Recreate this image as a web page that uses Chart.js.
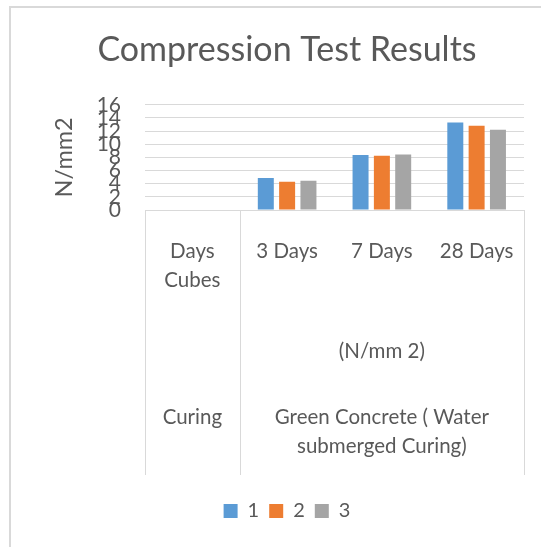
<!DOCTYPE html>
<html>
<head>
<meta charset="utf-8">
<script src="https://cdn.jsdelivr.net/npm/chart.js"></script>
<style>
  html, body { margin: 0; padding: 0; background: #fff; }
  #wrap { width: 541px; height: 547px; }
</style>
</head>
<body>
<div id="wrap"><canvas id="chart"></canvas></div>
<script>
// categories (first one is the header column of the multi-level axis)
const categories = [['Days', 'Cubes'], '3 Days', '7 Days', '28 Days'];
const unitLabel = '(N/mm 2)';
const curingHeader = 'Curing';
const curingLabel = ['Green Concrete ( Water', 'submerged Curing)'];

const series1 = [null, 4.85, 8.35, 13.3];
const series2 = [null, 4.3, 8.25, 12.8];
const series3 = [null, 4.45, 8.45, 12.2];

const yTicks = [0, 2, 4, 6, 8, 10, 12, 14, 16];

const textColor = '#595959';
const fontFamily = 'Lato, "Open Sans", sans-serif';

// draws the outer frame plus the Excel-like multi-level category labels
const multiLevel = {
    id: 'multiLevel',
    beforeDraw(chart) {
        const ctx = chart.ctx;
        ctx.save();
        ctx.strokeStyle = '#d9d9d9';
        ctx.lineWidth = 2;
        ctx.beginPath();
        ctx.moveTo(10, 547);
        ctx.lineTo(10, 7);
        ctx.lineTo(541, 7);
        ctx.stroke();
        ctx.restore();
    },
    afterDraw(chart) {
        const ctx = chart.ctx;
        const x = chart.scales.x;
        const area = chart.chartArea;
        const half = (x.getPixelForValue(1) - x.getPixelForValue(0)) / 2;
        const bottom = 475;

        ctx.save();
        ctx.strokeStyle = '#d9d9d9';
        ctx.lineWidth = 1;
        const seps = [x.getPixelForValue(0) - half, x.getPixelForValue(0) + half, x.getPixelForValue(3) + half];
        seps.forEach(px => {
            ctx.beginPath();
            ctx.moveTo(Math.round(px) + 0.5, area.bottom);
            ctx.lineTo(Math.round(px) + 0.5, bottom);
            ctx.stroke();
        });

        ctx.fillStyle = textColor;
        ctx.font = '20.5px ' + fontFamily;
        ctx.textAlign = 'center';
        ctx.textBaseline = 'middle';

        categories.forEach((c, i) => {
            const lines = Array.isArray(c) ? c : [c];
            lines.forEach((t, j) => ctx.fillText(t, x.getPixelForValue(i), 251 + j * 29));
        });

        const groupMid = (x.getPixelForValue(1) + x.getPixelForValue(3)) / 2;
        ctx.fillText(unitLabel, groupMid, 351);
        ctx.fillText(curingHeader, x.getPixelForValue(0), 417);
        curingLabel.forEach((t, j) => ctx.fillText(t, groupMid, 417 + j * 29));
        ctx.restore();
    }
};

new Chart(document.getElementById('chart'), {
    type: 'bar',
    data: {
        labels: categories,
        datasets: [
            { label: '1', data: series1, backgroundColor: '#5b9bd5' },
            { label: '2', data: series2, backgroundColor: '#ed7d31' },
            { label: '3', data: series3, backgroundColor: '#a5a5a5' }
        ]
    },
    options: {
        responsive: true,
        maintainAspectRatio: false,
        animation: false,
        datasets: {
            bar: { categoryPercentage: 0.675, barPercentage: 0.75 }
        },
        layout: { padding: { left: 50, right: 17, top: 0, bottom: 16 } },
        scales: {
            x: {
                grid: { display: false },
                border: { display: false },
                ticks: { display: false },
                afterFit: s => { s.height = 281; }
            },
            y: {
                min: 0,
                max: 16,
                afterBuildTicks: s => { s.ticks = yTicks.map(v => ({ value: v })); },
                grid: { color: '#d9d9d9', drawTicks: false },
                border: { display: false },
                ticks: {
                    color: textColor,
                    autoSkip: false,
                    padding: 24,
                    font: { size: 21, family: fontFamily }
                },
                title: {
                    display: true,
                    text: 'N/mm2',
                    color: textColor,
                    font: { size: 23.5, family: fontFamily },
                    padding: { top: 0, bottom: 0 }
                },
                afterFit: s => { s.width = 95; }
            }
        },
        plugins: {
            title: {
                display: true,
                text: 'Compression Test Results',
                color: textColor,
                font: { size: 34, family: fontFamily, weight: 'normal' },
                padding: { top: 30, bottom: 34 }
            },
            legend: {
                position: 'bottom',
                labels: {
                    color: textColor,
                    boxWidth: 14,
                    boxHeight: 14,
                    padding: 10,
                    font: { size: 20, family: fontFamily }
                }
            },
            tooltip: { enabled: false }
        }
    },
    plugins: [multiLevel]
});
</script>
</body>
</html>
